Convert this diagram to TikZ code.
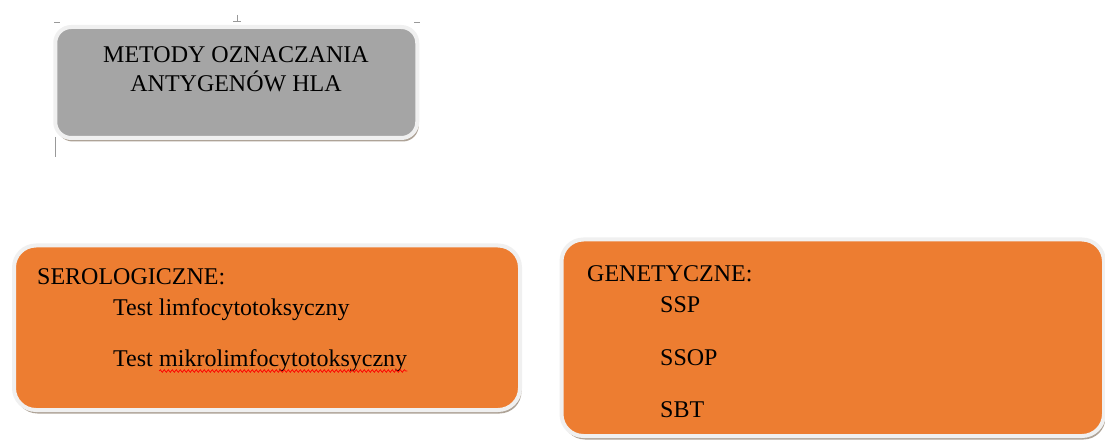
\documentclass[tikz,border=0pt]{standalone}
\usepackage{fontspec}
\setmainfont{Liberation Serif}
\usetikzlibrary{shadows,decorations.pathmorphing}
\definecolor{boxgray}{HTML}{A5A5A5}
\definecolor{boxorange}{HTML}{ED7D31}

\begin{document}
\begin{tikzpicture}[x=1pt,y=-1pt,
    base box/.style={rectangle,draw=white!94!black,line width=4pt,
      drop shadow={shadow xshift=1.5pt,shadow yshift=-3.5pt,fill=black!60!brown,opacity=.45}},
    head box/.style={base box,fill=boxgray,rounded corners=16pt},
    group box/.style={base box,fill=boxorange,rounded corners=22pt},
    txt/.style={inner sep=0pt,anchor=base west,font=\fontsize{24}{29}\selectfont},
    guide/.style={draw=black!40,line width=0.6pt}]

	\useasboundingbox[fill=white] (0,0) rectangle (1105,446);

	% ruler marks
	\draw[guide] (54,22) -- (60,22);
	\draw[guide] (414,22) -- (420,22);
	\draw[guide] (237,15) -- (237,21) (233,21) -- (241,21);
	\draw[guide] (55,137) -- (55,157);

	\node[head box,minimum width=362pt,minimum height=111pt] (head) at (236.25,82.5) {};
	\node[group box,minimum width=506pt,minimum height=164.5pt] (serobox) at (267,327.75) {};
	\node[group box,minimum width=542.5pt,minimum height=196.5pt] (genbox) at (832.75,337.75) {};

	\node[txt,anchor=base,align=center] (title) at (236,92) {METODY OZNACZANIA\\ANTYGENÓW HLA};

	\node[txt] (sero) at (37,284) {SEROLOGICZNE:};
	\node[txt] (limfo) at (113,315) {Test limfocytotoksyczny};
	\node[txt] (test) at (113,366) {Test};
	\node[txt] (mikro) at ([xshift=6pt]test.base east) {mikrolimfocytotoksyczny};
	\draw[red,line width=0.7pt,decorate,decoration={snake,amplitude=1.3pt,segment length=4pt}]
		([yshift=-5pt]mikro.base west) -- ([yshift=-5pt]mikro.base east);

	\node[txt] (gen) at (587,282) {GENETYCZNE:};
	\node[txt] (ssp) at (660,312) {SSP};
	\node[txt] (ssop) at (660,365) {SSOP};
	\node[txt] (sbt) at (660,417) {SBT};

\end{tikzpicture}
\end{document}
